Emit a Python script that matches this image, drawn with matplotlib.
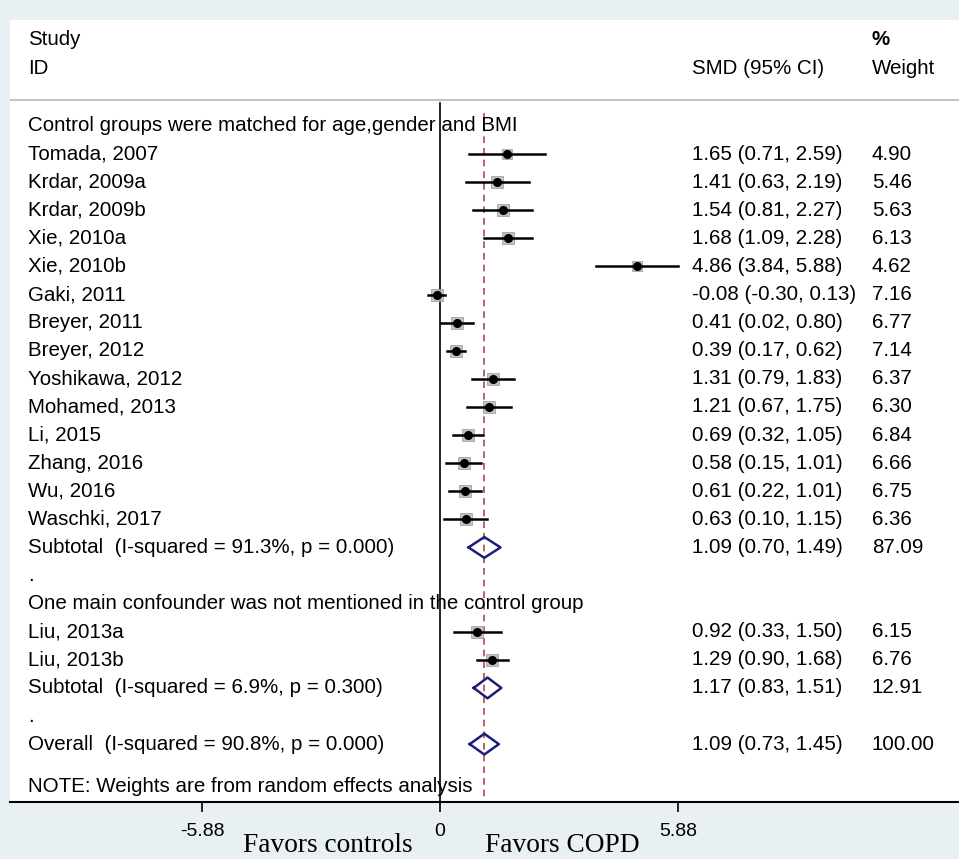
import matplotlib.pyplot as plt

# group 1: control groups matched for age, gender and BMI
studies_g1 = ["Tomada, 2007", "Krdar, 2009a", "Krdar, 2009b", "Xie, 2010a", "Xie, 2010b",
              "Gaki, 2011", "Breyer, 2011", "Breyer, 2012", "Yoshikawa, 2012", "Mohamed, 2013",
              "Li, 2015", "Zhang, 2016", "Wu, 2016", "Waschki, 2017"]
smd_g1 = [1.65, 1.41, 1.54, 1.68, 4.86, -0.08, 0.41, 0.39, 1.31, 1.21, 0.69, 0.58, 0.61, 0.63]
lo_g1 = [0.71, 0.63, 0.81, 1.09, 3.84, -0.30, 0.02, 0.17, 0.79, 0.67, 0.32, 0.15, 0.22, 0.10]
hi_g1 = [2.59, 2.19, 2.27, 2.28, 5.88, 0.13, 0.80, 0.62, 1.83, 1.75, 1.05, 1.01, 1.01, 1.15]
wt_g1 = [4.90, 5.46, 5.63, 6.13, 4.62, 7.16, 6.77, 7.14, 6.37, 6.30, 6.84, 6.66, 6.75, 6.36]

# group 2: one confounder not mentioned
studies_g2 = ["Liu, 2013a", "Liu, 2013b"]
smd_g2 = [0.92, 1.29]
lo_g2 = [0.33, 0.90]
hi_g2 = [1.50, 1.68]
wt_g2 = [6.15, 6.76]

group_titles = ["Control groups were matched for age,gender and BMI",
                "One main confounder was not mentioned in the control group"]
pooled_labels = ["Subtotal  (I-squared = 91.3%, p = 0.000)",
                 "Subtotal  (I-squared = 6.9%, p = 0.300)",
                 "Overall  (I-squared = 90.8%, p = 0.000)"]
pooled_smd = [1.09, 1.17, 1.09]
pooled_lo = [0.70, 0.83, 0.73]
pooled_hi = [1.49, 1.51, 1.45]
pooled_wt = [87.09, 12.91, 100.00]

overall = 1.09
xticks = [-5.88, 0, 5.88]

plt.rcParams["font.family"] = ["Liberation Sans", "DejaVu Sans"]
FS = 14.8
BG = "#e8f0f3"

fig = plt.figure(figsize=(9.59, 8.59), dpi=100, facecolor=BG)
ax = fig.add_axes([10 / 959, 1 - 802 / 859, 949 / 959, 782 / 859])
ax.set_facecolor("white")
ax.set_xlim(-10.62, 12.81)
ymax = 24.06
ax.set_ylim(ymax, -3.77)

lab_x = -10.17
smd_x = 6.23
wt_x = 10.66

# header
ax.text(lab_x, -3.06, "Study", fontsize=FS, va="center")
ax.text(lab_x, -2.06, "ID", fontsize=FS, va="center")
ax.text(smd_x, -2.06, "SMD (95% CI)", fontsize=FS, va="center")
ax.text(wt_x, -3.06, "%", fontsize=FS, va="center", fontweight="bold")
ax.text(wt_x, -2.06, "Weight", fontsize=FS, va="center")
ax.axhline(-0.93, color="#c4c4c4", lw=1.5)

# reference lines
ax.plot([0, 0], [-0.82, ymax], color="black", lw=1.2, zorder=2)
ax.plot([overall, overall], [-0.46, ymax], color="#b5474f", lw=1.2, ls=(0, (4, 3)), zorder=1)


def draw_study(row, name, m, lo, hi, w):
    ax.text(lab_x, row, name, fontsize=FS, va="center")
    ax.plot([lo, hi], [row, row], color="black", lw=1.8, zorder=3)
    ax.scatter([m], [row], marker="s", s=12 * w, color="#b8b8b8", alpha=0.85,
               edgecolors="#999999", linewidths=0.6, zorder=2.5)
    ax.plot([m], [row], "o", color="black", ms=5.5, zorder=4)
    ax.text(smd_x, row, f"{m:.2f} ({lo:.2f}, {hi:.2f})", fontsize=FS, va="center")
    ax.text(wt_x, row, f"{w:.2f}", fontsize=FS, va="center")


def draw_pooled(row, label, m, lo, hi, w):
    ax.text(lab_x, row, label, fontsize=FS, va="center")
    h = 0.37
    ax.plot([lo, m, hi, m, lo], [row, row - h, row, row + h, row],
            color="#1c1f78", lw=1.8, zorder=4)
    ax.text(smd_x, row, f"{m:.2f} ({lo:.2f}, {hi:.2f})", fontsize=FS, va="center")
    ax.text(wt_x, row, f"{w:.2f}", fontsize=FS, va="center")


row = 0
ax.text(lab_x, row, group_titles[0], fontsize=FS, va="center")
for i in range(len(studies_g1)):
    row += 1
    draw_study(row, studies_g1[i], smd_g1[i], lo_g1[i], hi_g1[i], wt_g1[i])
row += 1
draw_pooled(row, pooled_labels[0], pooled_smd[0], pooled_lo[0], pooled_hi[0], pooled_wt[0])
row += 1
ax.text(lab_x, row, ".", fontsize=FS, va="center")
row += 1
ax.text(lab_x, row, group_titles[1], fontsize=FS, va="center")
for i in range(len(studies_g2)):
    row += 1
    draw_study(row, studies_g2[i], smd_g2[i], lo_g2[i], hi_g2[i], wt_g2[i])
row += 1
draw_pooled(row, pooled_labels[1], pooled_smd[1], pooled_lo[1], pooled_hi[1], pooled_wt[1])
row += 1
ax.text(lab_x, row, ".", fontsize=FS, va="center")
row += 1
draw_pooled(row, pooled_labels[2], pooled_smd[2], pooled_lo[2], pooled_hi[2], pooled_wt[2])
ax.text(lab_x, row + 1.5, "NOTE: Weights are from random effects analysis", fontsize=FS, va="center")

# axis
for side in ["top", "right", "left"]:
    ax.spines[side].set_visible(False)
ax.spines["bottom"].set_linewidth(1.5)
ax.set_yticks([])
ax.set_xticks(xticks)
ax.set_xticklabels(["-5.88", "0", "5.88"])
ax.tick_params(axis="x", length=7.2, width=1.2, pad=8, labelsize=14)

fig.text(328 / 959, 1 - 852 / 859, "Favors controls", family="Liberation Serif",
         fontsize=19.7, ha="center", va="baseline")
fig.text(562 / 959, 1 - 852 / 859, "Favors COPD", family="Liberation Serif",
         fontsize=19.7, ha="center", va="baseline")

fig.savefig("out.png", dpi=100, facecolor=BG)
